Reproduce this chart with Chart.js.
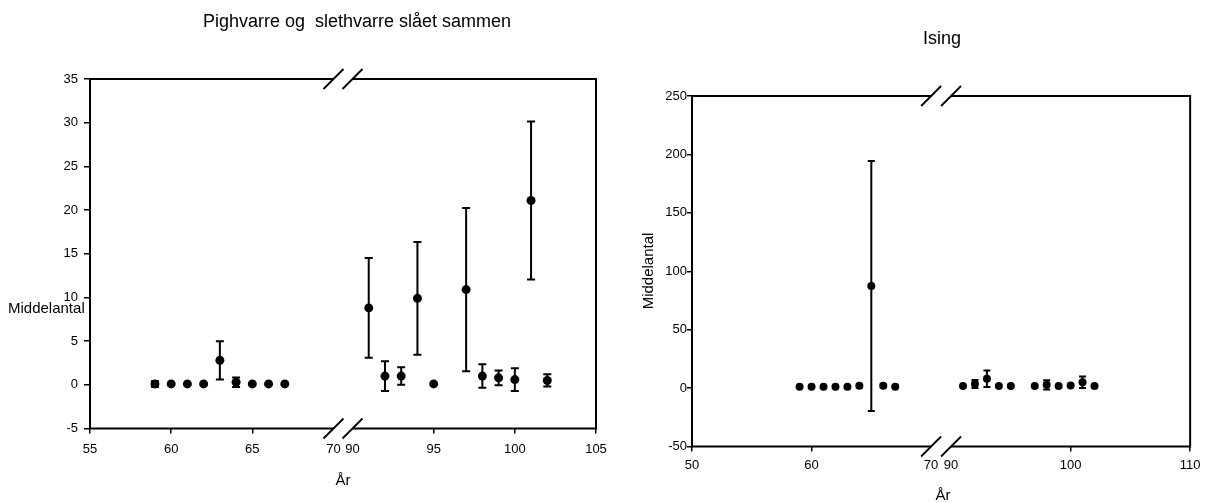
<!DOCTYPE html>
<html>
<head>
<meta charset="utf-8">
<script src="https://cdn.jsdelivr.net/npm/chart.js@4.4.1/dist/chart.umd.min.js"></script>
<style>
  html, body { margin: 0; padding: 0; background: #ffffff; }
  #wrap { position: relative; width: 1207px; height: 503px; overflow: hidden; }
  canvas { position: absolute; top: 0; }
  #pigChart { left: 0; }
  #isingChart { left: 620px; }
</style>
</head>
<body>
<div id="wrap">
  <canvas id="pigChart" width="620" height="503"></canvas>
  <canvas id="isingChart" width="587" height="503"></canvas>
</div>
<script>
// Pighvarre og slethvarre: mean count per year with error half-widths
const pigYears = [59, 60, 61, 62, 63, 64, 65, 66, 67, 91, 92, 93, 94, 95, 97, 98, 99, 100, 101, 102];
const pigMean  = [0.1, 0.1, 0.1, 0.1, 2.8, 0.3, 0.1, 0.1, 0.1, 8.8, 1.0, 1.0, 9.9, 0.1, 10.9, 1.0, 0.8, 0.6, 21.1, 0.5];
const pigErr   = [0.35, 0, 0, 0, 2.2, 0.55, 0, 0, 0, 5.7, 1.7, 1.0, 6.45, 0, 9.35, 1.35, 0.85, 1.3, 9.05, 0.7];
const pigXTicks = [55, 60, 65, 70, 90, 95, 100, 105];
const pigYRange = [-5, 35];
const pigYStep = 5;

// Ising: mean count per year with error half-widths
const isingYears = [59, 60, 61, 62, 63, 64, 65, 66, 67, 91, 92, 93, 94, 95, 97, 98, 99, 100, 101, 102];
const isingMean  = [1.1, 1.1, 1.1, 1.1, 1.1, 2.0, 87.3, 2.0, 1.1, 1.7, 3.5, 8.0, 1.7, 1.7, 1.7, 2.8, 1.7, 2.3, 5.0, 1.7];
const isingErr   = [0, 0, 0, 0, 0, 1.5, 107, 1.5, 0, 0, 3.5, 7.0, 0, 0, 0, 4.0, 0, 0.8, 5.0, 0];
const isingXTicks = [50, 60, 70, 90, 100, 110];
const isingYRange = [-50, 250];
const isingYStep = 50;

// Broken axis: years between 70 and 90 are squeezed into a small gap
const BREAK_LO = 70, BREAK_HI = 90;
function makeBreak(gap) {
  return v => (v <= BREAK_LO ? v : v - (BREAK_HI - BREAK_LO) + gap);
}

const FONT = "'Liberation Sans', Arial, Helvetica, sans-serif";

// Error bars underneath the points, frame with break marks and text on top
const decorPlugin = {
  id: 'decor',
  beforeDatasetsDraw(chart, args, o) {
    const ctx = chart.ctx, xs = chart.scales.x, ys = chart.scales.y;
    ctx.save();
    ctx.strokeStyle = '#000';
    ctx.lineWidth = 2;
    o.years.forEach((yr, i) => {
      const e = o.err[i];
      if (!e) return;
      const px = xs.getPixelForValue(o.brk(yr));
      const pTop = ys.getPixelForValue(o.mean[i] + e);
      const pBot = ys.getPixelForValue(o.mean[i] - e);
      ctx.beginPath();
      ctx.moveTo(px, pTop); ctx.lineTo(px, pBot);
      ctx.moveTo(px - o.cap, pTop); ctx.lineTo(px + o.cap, pTop);
      ctx.moveTo(px - o.cap, pBot); ctx.lineTo(px + o.cap, pBot);
      ctx.stroke();
    });
    ctx.restore();
  },
  afterDraw(chart, args, o) {
    const ctx = chart.ctx, a = chart.chartArea, xs = chart.scales.x;
    const b1 = xs.getPixelForValue(o.brk(BREAK_LO));
    const b2 = xs.getPixelForValue(o.brk(BREAK_HI));
    ctx.save();
    ctx.strokeStyle = '#000';
    ctx.lineWidth = 2;
    ctx.lineJoin = 'miter';
    ctx.beginPath();
    ctx.moveTo(b1, a.top); ctx.lineTo(a.left, a.top); ctx.lineTo(a.left, a.bottom); ctx.lineTo(b1, a.bottom);
    ctx.moveTo(b2, a.bottom); ctx.lineTo(a.right, a.bottom); ctx.lineTo(a.right, a.top); ctx.lineTo(b2, a.top);
    ctx.stroke();
    ctx.lineWidth = 1.8;
    ctx.beginPath();
    [b1, b2].forEach(bx => {
      [a.top, a.bottom].forEach(by => {
        ctx.moveTo(bx - 10, by + 10);
        ctx.lineTo(bx + 10, by - 10);
      });
    });
    ctx.stroke();

    ctx.fillStyle = '#000';
    o.texts.forEach(t => {
      ctx.save();
      ctx.font = t.size + 'px ' + FONT;
      ctx.textAlign = t.align || 'center';
      ctx.textBaseline = 'alphabetic';
      ctx.translate(t.x, t.y);
      if (t.rot) ctx.rotate(t.rot);
      ctx.fillText(t.text, 0, 0);
      ctx.restore();
    });
    ctx.restore();
  }
};

function buildChart(canvasId, cfg) {
  const brk = makeBreak(cfg.gap);
  const points = cfg.years.map((yr, i) => ({ x: brk(yr), y: cfg.mean[i] }));
  const hidden = v => v === BREAK_LO || v === BREAK_HI;
  return new Chart(document.getElementById(canvasId), {
    type: 'scatter',
    data: {
      datasets: [{
        data: points,
        pointRadius: cfg.radius,
        pointHoverRadius: cfg.radius,
        pointBackgroundColor: '#000',
        pointBorderColor: '#000',
        pointBorderWidth: 0,
        showLine: false
      }]
    },
    plugins: [decorPlugin],
    options: {
      responsive: false,
      animation: false,
      devicePixelRatio: 1,
      events: [],
      layout: { padding: cfg.padding },
      plugins: {
        legend: { display: false },
        tooltip: { enabled: false },
        title: { display: false },
        decor: {
          brk: brk, years: cfg.years, mean: cfg.mean, err: cfg.err,
          cap: cfg.cap, texts: cfg.texts
        }
      },
      scales: {
        x: {
          type: 'linear',
          min: brk(cfg.xTicks[0]),
          max: brk(cfg.xTicks[cfg.xTicks.length - 1]),
          afterBuildTicks: s => { s.ticks = cfg.xTicks.map(v => ({ value: brk(v) })); },
          afterFit: s => { s.height = cfg.xHeight; },
          border: { display: false },
          grid: {
            drawOnChartArea: false,
            drawTicks: true,
            tickLength: 5,
            lineWidth: 1.5,
            color: c => (hidden(cfg.xTicks[c.index]) ? 'rgba(0,0,0,0)' : '#000')
          },
          ticks: {
            autoSkip: false,
            maxRotation: 0,
            padding: cfg.xTickPad,
            color: '#000',
            font: { family: FONT, size: 13 },
            callback: (v, i) => String(cfg.xTicks[i])
          }
        },
        y: {
          min: cfg.yRange[0],
          max: cfg.yRange[1],
          afterFit: s => { s.width = cfg.yWidth; },
          border: { display: false },
          grid: {
            drawOnChartArea: false,
            drawTicks: true,
            tickLength: cfg.yTickLen,
            lineWidth: 1.5,
            color: '#000'
          },
          ticks: {
            stepSize: cfg.yStep,
            padding: cfg.yTickPad,
            color: '#000',
            font: { family: FONT, size: 13 }
          }
        }
      }
    }
  });
}

buildChart('pigChart', {
  years: pigYears, mean: pigMean, err: pigErr,
  xTicks: pigXTicks, yRange: pigYRange, yStep: pigYStep,
  gap: 1.17, radius: 4.5, cap: 4,
  padding: { left: 0, right: 24, top: 79, bottom: 0 },
  xHeight: 74.5, yWidth: 90, xTickPad: 8, yTickLen: 6, yTickPad: 6,
  texts: [
    { text: 'Pighvarre og  slethvarre slået sammen', x: 357, y: 27, size: 18 },
    { text: 'Middelantal', x: 8, y: 313, size: 15, align: 'left' },
    { text: 'År', x: 343, y: 485, size: 15 }
  ]
});

buildChart('isingChart', {
  years: isingYears, mean: isingMean, err: isingErr,
  xTicks: isingXTicks, yRange: isingYRange, yStep: isingYStep,
  gap: 1.67, radius: 4, cap: 3.5,
  padding: { left: 0, right: 13, top: 96, bottom: 0 },
  xHeight: 56.5, yWidth: 72, xTickPad: 6.5, yTickLen: 5, yTickPad: 0,
  texts: [
    { text: 'Ising', x: 322, y: 44, size: 18 },
    { text: 'Middelantal', x: 33, y: 271, size: 15, rot: -Math.PI / 2 },
    { text: 'År', x: 323, y: 500, size: 15 }
  ]
});
</script>
</body>
</html>
